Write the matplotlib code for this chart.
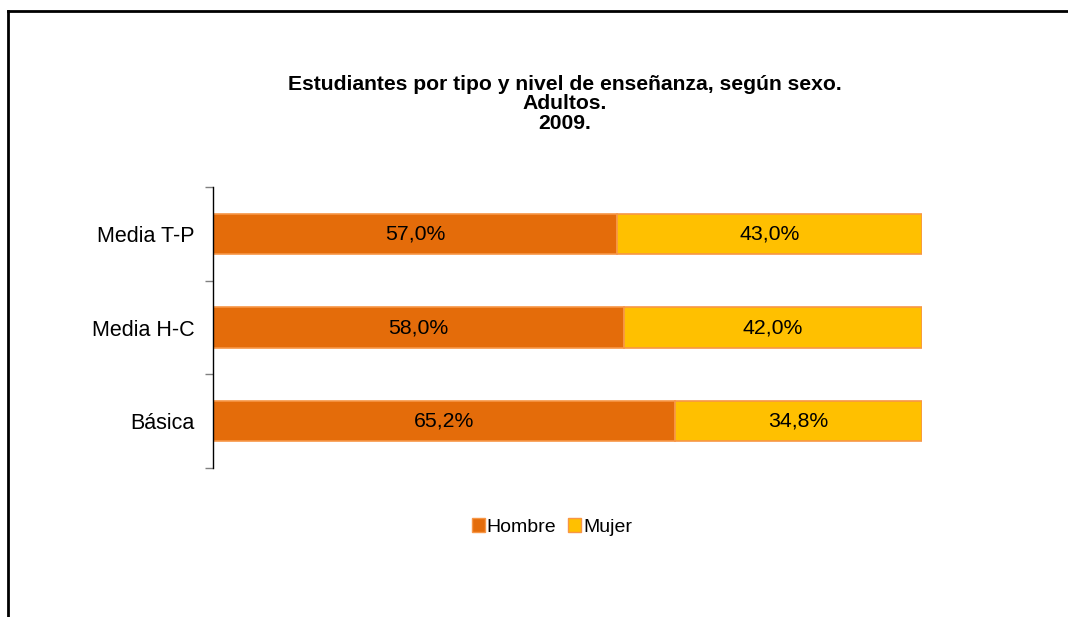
import matplotlib
matplotlib.use("Agg")
import matplotlib.pyplot as plt
from matplotlib.lines import Line2D
from matplotlib.patches import Patch

categories = ["Básica", "Media H-C", "Media T-P"]
hombre = [65.2, 58.0, 57.0]
mujer = [34.8, 42.0, 43.0]
series_names = ["Hombre", "Mujer"]
title = "Estudiantes por tipo y nivel de enseñanza, según sexo.\nAdultos.\n2009."

plt.rcParams['font.family'] = ['Liberation Sans', 'DejaVu Sans']

c_h = "#E46C0A"
c_m = "#FFC000"
edge = "#F79646"

fig = plt.figure(figsize=(10.68, 6.17), dpi=100)
ax = fig.add_axes([213/1068, 1-468/617, (922-213)/1068, (468-187)/617])

ypos = list(range(len(categories)))
ax.barh(ypos, hombre, height=0.43, color=c_h, edgecolor=edge, linewidth=1.2)
ax.barh(ypos, mujer, left=hombre, height=0.43, color=c_m, edgecolor=edge, linewidth=1.2)

for y, h, m in zip(ypos, hombre, mujer):
    ax.text(h/2, y, f"{h:.1f}%".replace(".", ","), ha="center", va="center", fontsize=15.3, color="black")
    ax.text(h + m/2, y, f"{m:.1f}%".replace(".", ","), ha="center", va="center", fontsize=15.3, color="black")

ax.set_xlim(0, 100)
ax.set_ylim(-0.5, 2.5)
ax.set_yticks([-0.5, 0.5, 1.5, 2.5])
ax.set_yticklabels([])
ax.set_yticks(ypos, minor=True)
ax.set_yticklabels(categories, minor=True, fontsize=15.5)
ax.tick_params(axis='y', which='minor', length=0, pad=13)
ax.tick_params(axis='y', which='major', length=6, width=1, color="#808080")
ax.set_xticks([])
for s in ["top", "right", "bottom"]:
    ax.spines[s].set_visible(False)
ax.spines["left"].set_color("black")
ax.spines["left"].set_linewidth(1)

fig.text(565/1068, 1-75/617, title, ha="center", va="top", fontsize=15.2, fontweight="bold", linespacing=1.03)

handles = [Patch(facecolor=c_h, edgecolor=edge), Patch(facecolor=c_m, edgecolor=edge)]
fig.legend(handles, series_names, loc="center", bbox_to_anchor=(552/1068, 1-527/617), ncol=2,
           frameon=False, fontsize=14, handlelength=0.68, handleheight=0.68, handletextpad=0.1,
           columnspacing=0.6)

# outer frame (top and left edges)
fig.add_artist(Line2D([8/1068, 1.0], [1-11/617, 1-11/617], transform=fig.transFigure, color="black", linewidth=2))
fig.add_artist(Line2D([8/1068, 8/1068], [1-11/617, 0], transform=fig.transFigure, color="black", linewidth=2))

fig.savefig("out.png", dpi=100)
